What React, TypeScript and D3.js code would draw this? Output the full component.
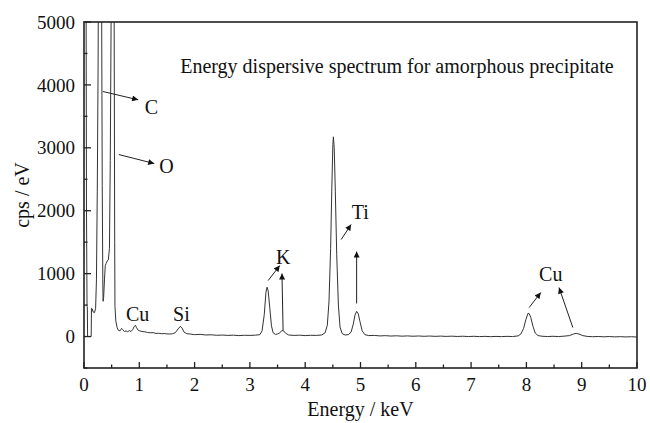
import React from 'react';
import * as d3 from 'd3';

// EDS spectrum of the amorphous precipitate
const energy = [
  0.0, 0.03, 0.045, 0.055, 0.06, 0.065, 0.13, 0.135, 0.15, 0.165, 0.19, 0.21, 0.225, 0.24, 0.255, 0.27, 0.29, 0.31, 0.32, 0.33,
  0.34, 0.345, 0.355, 0.37, 0.385, 0.4, 0.42, 0.44, 0.46, 0.475, 0.49, 0.52, 0.545, 0.555, 0.56, 0.575, 0.6, 0.62, 0.65, 0.68,
  0.7, 0.73, 0.76, 0.79, 0.82, 0.85, 0.88, 0.91, 0.93, 0.95, 0.98, 1.01, 1.05, 1.1, 1.15, 1.2, 1.25, 1.3, 1.35, 1.4,
  1.45, 1.5, 1.55, 1.6, 1.65, 1.7, 1.74, 1.77, 1.81, 1.86, 1.92, 2.0, 2.1, 2.2, 2.3, 2.4, 2.5, 2.6, 2.7, 2.8,
  2.9, 3.0, 3.1, 3.18, 3.22, 3.26, 3.29, 3.31, 3.33, 3.36, 3.39, 3.42, 3.46, 3.5, 3.54, 3.58, 3.61, 3.65, 3.7, 3.8,
  3.9, 4.0, 4.1, 4.2, 4.3, 4.36, 4.4, 4.43, 4.46, 4.48, 4.5, 4.51, 4.525, 4.545, 4.57, 4.6, 4.63, 4.67, 4.72, 4.78,
  4.83, 4.87, 4.9, 4.93, 4.96, 4.99, 5.03, 5.08, 5.15, 5.25, 5.35, 5.45, 5.55, 5.65, 5.75, 5.85, 5.95, 6.05, 6.15, 6.25,
  6.35, 6.45, 6.55, 6.65, 6.75, 6.85, 6.95, 7.05, 7.15, 7.25, 7.35, 7.45, 7.55, 7.65, 7.75, 7.85, 7.9, 7.95, 7.99, 8.03,
  8.05, 8.08, 8.12, 8.16, 8.21, 8.28, 8.38, 8.48, 8.58, 8.68, 8.78, 8.85, 8.9, 8.95, 9.02, 9.1, 9.2, 9.3, 9.4, 9.5,
  9.6, 9.7, 9.8, 9.9, 10.0,
];
const cps = [
  9000, 9000, 2000, 480, 470, 0, 0, 450, 440, 390, 380, 450, 900, 2300, 4300, 8000, 11000, 7500, 5000, 2400,
  900, 560, 620, 900, 1130, 1160, 1200, 1220, 1400, 2800, 5000, 10000, 5200, 1500, 480, 250, 140, 100, 90, 130,
  110, 80, 90, 75, 95, 80, 110, 160, 180, 140, 100, 90, 80, 75, 65, 60, 62, 50, 52, 45,
  48, 42, 40, 44, 60, 120, 160, 140, 70, 45, 40, 30, 35, 25, 28, 20, 24, 18, 22, 15,
  20, 18, 22, 30, 90, 350, 700, 785, 730, 450, 170, 60, 35, 40, 60, 95, 90, 50, 25, 18,
  22, 15, 20, 18, 25, 60, 180, 550, 1400, 2300, 3050, 3175, 3000, 2300, 1300, 500, 150, 45, 25, 30,
  70, 200, 340, 400, 360, 240, 90, 30, 15, 18, 10, 14, 8, 12, 6, 10, 5, 9, 4, 8,
  3, 7, 2, 6, 1, 5, 0, 4, -1, 3, -2, 2, -1, 3, 0, 10, 40, 130, 270, 370,
  365, 300, 160, 55, 15, 5, 0, 4, 0, 6, 15, 40, 50, 40, 15, 2, -3, 1, -4, 0,
  -5, -2, -6, -3, -8,
];

const xTicks = [0, 1, 2, 3, 4, 5, 6, 7, 8, 9, 10];
const xMinor = [0.5, 1.5, 2.5, 3.5, 4.5, 5.5, 6.5, 7.5, 8.5, 9.5];
const yTicks = [0, 1000, 2000, 3000, 4000, 5000];
const yMinor = [-500, 500, 1500, 2500, 3500, 4500];

const title = 'Energy dispersive spectrum for amorphous precipitate';

// peak labels and arrows, in data units (keV, cps/eV)
const labelText = ['C', 'O', 'Cu', 'Si', 'K', 'Ti', 'Cu'];
const labelE = [1.1, 1.36, 0.76, 1.61, 3.47, 4.84, 8.23];
const labelV = [3545, 2607, 254, 254, 1160, 1876, 890];

const arrowFromE = [0.34, 0.63, 3.33, 3.6, 4.65, 4.93, 8.05, 8.84];
const arrowFromV = [3895, 2893, 890, 95, 1542, 525, 461, 143];
const arrowToE = [0.98, 1.27, 3.54, 3.58, 4.83, 4.93, 8.26, 8.59];
const arrowToV = [3763, 2750, 1129, 1002, 1781, 1351, 700, 779];

const W = 650;
const H = 423;
const margin = { top: 22, right: 13, bottom: 55, left: 84 };
const font = '"Liberation Serif", "Times New Roman", serif';

export default function App() {
  const x = d3.scaleLinear().domain([0, 10]).range([margin.left, W - margin.right]);
  const y = d3.scaleLinear().domain([-500, 5000]).range([H - margin.bottom, margin.top]);

  const points: [number, number][] = energy.map((e, i) => [e, cps[i]]);
  const line = d3.line<[number, number]>()
    .x(d => x(d[0]))
    .y(d => y(d[1]));

  const x0 = x(0), x1 = x(10), y0 = y(-500), y1 = y(5000);

  return (
    <svg width={W} height={H} viewBox={`0 0 ${W} ${H}`}
      style={{ position: 'absolute', left: 0, top: 0, background: '#fff', fontFamily: font }}>
      <defs>
        <clipPath id="plot">
          <rect x={x0} y={y1} width={x1 - x0} height={y0 - y1} />
        </clipPath>
        <marker id="head" viewBox="0 0 10 10" refX="10" refY="5" markerWidth="7" markerHeight="6"
          markerUnits="userSpaceOnUse" orient="auto">
          <path d="M0,0 L10,5 L0,10 z" fill="#111" />
        </marker>
      </defs>
      <rect width={W} height={H} fill="#fff" />

      <path d={line(points) ?? ''} fill="none" stroke="#333" strokeWidth={1} clipPath="url(#plot)" />

      {/* frame */}
      <rect x={x0} y={y1} width={x1 - x0} height={y0 - y1} fill="none" stroke="#222" strokeWidth={1.6} />

      {/* x ticks, pointing inward */}
      {xTicks.map(t => (
        <g key={'xt' + t}>
          <line x1={x(t)} x2={x(t)} y1={y0} y2={y0 - 6} stroke="#222" strokeWidth={1.3} />
          <text x={x(t)} y={y0 + 23} textAnchor="middle" fontSize={19} fill="#111">{t}</text>
        </g>
      ))}
      {xMinor.map(t => (
        <line key={'xm' + t} x1={x(t)} x2={x(t)} y1={y0} y2={y0 - 3.5} stroke="#222" strokeWidth={1.3} />
      ))}

      {/* y ticks */}
      {yTicks.map(t => (
        <g key={'yt' + t}>
          <line x1={x0} x2={x0 + 7} y1={y(t)} y2={y(t)} stroke="#222" strokeWidth={1.3} />
          <text x={x0 - 9} y={y(t)} dy="0.35em" textAnchor="end" fontSize={19} fill="#111">{t}</text>
        </g>
      ))}
      {yMinor.map(t => (
        <line key={'ym' + t} x1={x0} x2={x0 + 3.5} y1={y(t)} y2={y(t)} stroke="#222" strokeWidth={1.3} />
      ))}

      {/* axis titles */}
      <text x={(x0 + x1) / 2} y={H - 7} textAnchor="middle" fontSize={20} fill="#111">Energy / keV</text>
      <text transform={`translate(29,${(y0 + y1) / 2}) rotate(-90)`} textAnchor="middle" fontSize={20} fill="#111">cps / eV</text>

      <text x={x(1.74)} y={y(4182)} fontSize={20} fill="#111">{title}</text>

      {/* annotations */}
      {arrowFromE.map((e, i) => (
        <line key={'ar' + i} x1={x(e)} y1={y(arrowFromV[i])} x2={x(arrowToE[i])} y2={y(arrowToV[i])}
          stroke="#222" strokeWidth={1} markerEnd="url(#head)" />
      ))}
      {labelText.map((s, i) => (
        <text key={'lb' + i} x={x(labelE[i])} y={y(labelV[i])} fontSize={20} fill="#111">{s}</text>
      ))}
    </svg>
  );
}
